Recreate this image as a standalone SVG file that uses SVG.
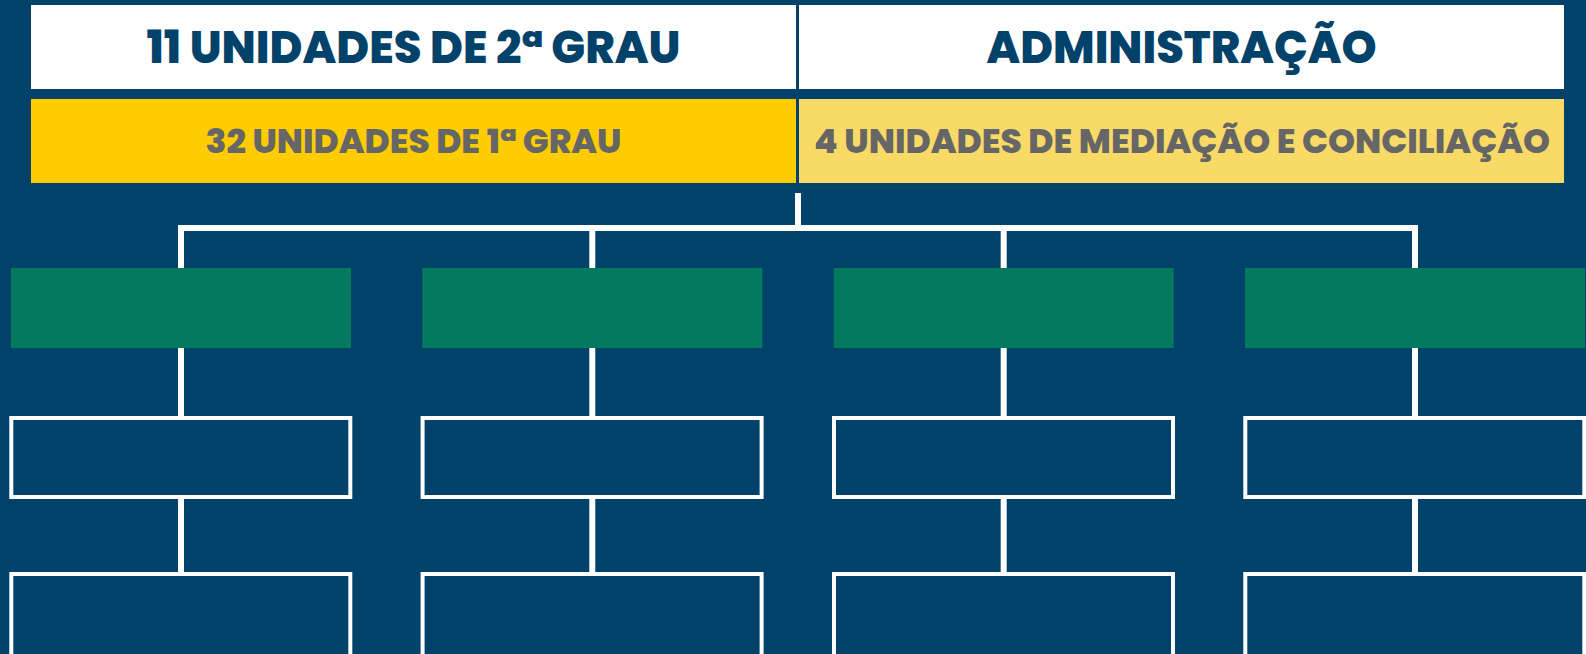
<svg xmlns="http://www.w3.org/2000/svg" width="1586" height="654" viewBox="0 0 1586 654">
<style>
.bg{fill:#01426A}
.head{fill:#FFFFFF}
.t1{font-family:Poppins,Inter,"Liberation Sans",sans-serif;font-weight:800;fill:#01426A;text-anchor:middle;font-size:45px}
.t2{font-family:Poppins,Inter,"Liberation Sans",sans-serif;font-weight:800;fill:#666666;text-anchor:middle;font-size:34px}
.green{fill:#037A5E}
.outl{fill:none;stroke:#FFFFFF;stroke-width:4}
.conn{fill:none;stroke:#FFFFFF;stroke-width:6}
</style>
<rect class="bg" x="0" y="0" width="1586" height="654"/>
<g id="top-left">
<rect class="head" x="31" y="5" width="765" height="84"/>
<text class="t1" x="413.5" y="63" textLength="534" lengthAdjust="spacingAndGlyphs">11 UNIDADES DE 2ª GRAU</text>
</g>
<g id="top-right">
<rect class="head" x="799" y="5" width="765" height="84"/>
<text class="t1" x="1181.5" y="63" textLength="390" lengthAdjust="spacingAndGlyphs">ADMINISTRAÇÃO</text>
</g>
<g id="row2-left">
<rect x="31" y="99" width="765" height="84" fill="#FFCC00"/>
<text class="t2" x="413.5" y="153" textLength="416" lengthAdjust="spacingAndGlyphs">32 UNIDADES DE 1ª GRAU</text>
</g>
<g id="row2-right">
<rect x="799" y="99" width="765" height="84" fill="#FADA66"/>
<text class="t2" x="1182" y="153" textLength="736" lengthAdjust="spacingAndGlyphs">4 UNIDADES DE MEDIAÇÃO E CONCILIAÇÃO</text>
</g>
<g id="connectors">
<path class="conn" d="M798 193V228M178 228H1418M181 228V268M592.3 228V268M1003.7 228V268M1415 228V268"/>
<path class="conn" d="M181 348V418M181 497V574M592.3 348V418M592.3 497V574M1003.7 348V418M1003.7 497V574M1415 348V418M1415 497V574"/>
</g>
<g id="col1">
<rect class="green" x="11" y="268" width="340" height="80"/>
<rect class="outl" x="11.3" y="418" width="339" height="79"/>
<rect class="outl" x="11.3" y="574" width="339" height="90"/>
</g>
<g id="col2">
<rect class="green" x="422.3" y="268" width="340" height="80"/>
<rect class="outl" x="422.6" y="418" width="339" height="79"/>
<rect class="outl" x="422.6" y="574" width="339" height="90"/>
</g>
<g id="col3">
<rect class="green" x="833.7" y="268" width="340" height="80"/>
<rect class="outl" x="834" y="418" width="339" height="79"/>
<rect class="outl" x="834" y="574" width="339" height="90"/>
</g>
<g id="col4">
<rect class="green" x="1245" y="268" width="340" height="80"/>
<rect class="outl" x="1245.3" y="418" width="339" height="79"/>
<rect class="outl" x="1245.3" y="574" width="339" height="90"/>
</g>
</svg>
